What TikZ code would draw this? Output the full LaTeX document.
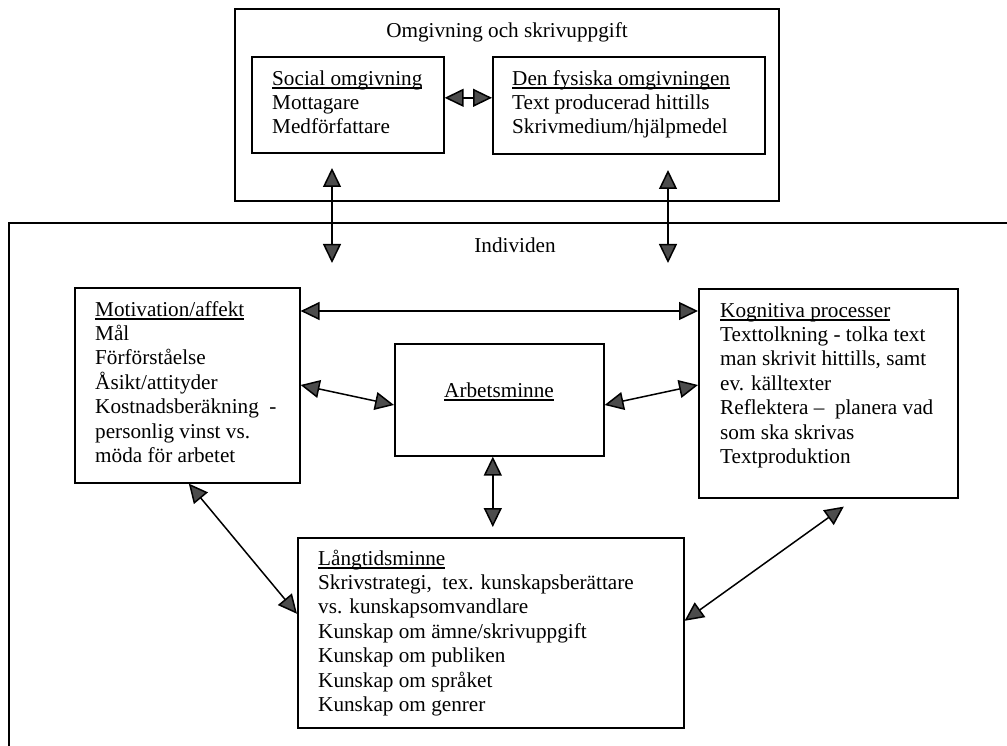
\documentclass[tikz,border=0pt]{standalone}
\usepackage{fontspec}
\setmainfont{Liberation Serif}
\usetikzlibrary{arrows.meta,calc}
\newcommand\myul[1]{\setbox0=\hbox{#1}\rlap{\vrule height -2.2pt depth 3.5pt width \wd0}\box0}
\begin{document}
\begin{tikzpicture}[x=1pt,y=-1pt,
  box/.style={draw, line width=1.6pt, inner sep=0pt, anchor=north west},
  txt/.style={inner sep=0pt, anchor=base west, align=left, font=\fontsize{21.2}{24.4}\selectfont},
  ttl/.style={inner sep=0pt, anchor=base, font=\fontsize{21.2}{24.4}\selectfont},
  dar/.style={line width=1.5pt, {Triangle[length=19pt,width=18pt,fill=black!70]}-{Triangle[length=19pt,width=18pt,fill=black!70]}}]
\useasboundingbox (0,0) rectangle (1007,746);
\fill[white] (0,0) rectangle (1007,746);

% outer boxes
\node[box, minimum width=544pt, minimum height=192pt] (omg) at (234,8) {};
\draw[line width=1.6pt] (1007,223) -- (9,223) -- (9,746);

% titles
\node[ttl] (omgt) at (507,38) {Omgivning och skrivuppgift};
\node[ttl] (indt) at (515,253) {Individen};

% inner boxes
\node[box, minimum width=192pt, minimum height=96pt] (soc) at (251,56) {};
\node[box, minimum width=272pt, minimum height=97pt] (fys) at (492,56) {};
\node[box, minimum width=225pt, minimum height=195pt] (mot) at (74,287) {};
\node[box, minimum width=209pt, minimum height=112pt] (arb) at (394,343) {};
\node[box, minimum width=259pt, minimum height=209pt] (kog) at (698,288) {};
\node[box, minimum width=386pt, minimum height=190pt] (lang) at (297,537) {};

% texts (anchor = baseline of the last line)
\node[txt] (soct) at (272,134) {\myul{Social omgivning}\\Mottagare\\Medförfattare};
\node[txt] (fyst) at (512,134) {\myul{Den fysiska omgivningen}\\Text producerad hittills\\Skrivmedium/hjälpmedel};
\node[txt] (mott) at (95,462.5) {\myul{Motivation/affekt}\\Mål\\Förförståelse\\Åsikt/attityder\\Kostnadsberäkning\ \ -\\personlig vinst vs.\\möda för arbetet};
\node[ttl] (arbt) at (499,397) {\myul{Arbetsminne}};
\node[txt] (kogt) at (720,463.5) {\myul{Kognitiva processer}\\Texttolkning - tolka text\\man skrivit hittills, samt\\ev. källtexter\\Reflektera –\ \ planera vad\\som ska skrivas\\Textproduktion};
\node[txt] (langt) at (318,711.5) {\myul{Långtidsminne}\\Skrivstrategi,\ \ tex. kunskapsberättare\\vs. kunskapsomvandlare\\Kunskap om ämne/skrivuppgift\\Kunskap om publiken\\Kunskap om språket\\Kunskap om genrer};

% free ends of the vertical connectors
\coordinate (a1t) at (332,168);
\coordinate (a1b) at (332,263);
\coordinate (a2t) at (668,170);
\coordinate (a2b) at (668,263);

% connectors
\draw[dar] ([yshift=7pt]soc.east) -- ([yshift=7.5pt]fys.west);
\draw[dar] (a1t) -- (a1b);
\draw[dar] (a2t) -- (a2b);
\draw[dar] ([yshift=-24pt]mot.north east) -- ([yshift=-23pt]kog.north west);
\draw[dar] ([yshift=-98pt]mot.north east) -- ([yshift=-62pt]arb.north west);
\draw[dar] ([yshift=-62pt]arb.north east) -- ([yshift=-97pt]kog.north west);
\draw[dar] ([xshift=-6.5pt]arb.south) -- ([xshift=2pt,yshift=10pt]lang.north);
\draw[dar] ([xshift=1.5pt]mot.south) -- ([yshift=19pt]lang.west);
\draw[dar] ([yshift=12pt]lang.east) -- ([xshift=15.5pt,yshift=-8pt]kog.south);
\end{tikzpicture}
\end{document}
